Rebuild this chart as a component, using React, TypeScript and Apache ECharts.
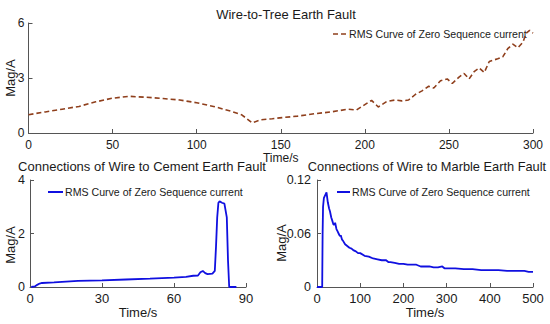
import React, { useEffect, useRef } from "react";
import * as echarts from "echarts";

const legendName = "RMS Curve of Zero Sequence current";

const treeTime = [0, 10, 20, 30, 40, 50, 60, 70, 80, 90, 100, 110, 120, 127, 133, 138, 145, 152, 160, 170, 180, 190, 195, 200, 204, 208, 213, 218, 222, 226, 230, 234, 238, 241, 245, 249, 252, 256, 259, 262, 265, 268, 271, 274, 279, 282, 285, 288, 291, 294, 296, 298, 300];
const treeMag = [1.0, 1.15, 1.3, 1.45, 1.7, 1.9, 2.0, 1.95, 1.88, 1.8, 1.65, 1.45, 1.2, 0.98, 0.55, 0.72, 0.78, 0.85, 0.92, 1.05, 1.15, 1.3, 1.25, 1.55, 1.78, 1.42, 1.72, 1.8, 1.75, 1.8, 2.1, 2.3, 2.55, 2.45, 2.85, 2.95, 2.7, 3.05, 3.25, 2.95, 3.35, 3.55, 3.3, 3.9, 4.05, 4.15, 4.6, 4.85, 4.65, 4.95, 5.45, 5.6, 5.45];

const cementTime = [0.5, 2, 3, 4, 5, 10, 15, 20, 30, 40, 50, 55, 60, 65, 68, 70, 71, 72, 73, 74, 76, 77, 77.5, 78, 78.5, 79, 80, 81, 82, 82.5, 83, 86];
const cementMag = [0, 0.02, 0.08, 0.13, 0.15, 0.17, 0.2, 0.23, 0.25, 0.28, 0.31, 0.33, 0.35, 0.38, 0.42, 0.43, 0.55, 0.6, 0.52, 0.48, 0.5, 0.6, 1.5, 2.6, 3.15, 3.2, 3.15, 3.12, 2.6, 1.0, 0, 0];

const marbleTime = [0, 5, 10, 12, 13, 14, 16, 19, 22, 25, 28, 30, 33, 35, 38, 40, 42, 45, 48, 50, 53, 55, 58, 60, 65, 70, 75, 80, 85, 90, 95, 100, 110, 120, 130, 140, 150, 160, 165, 170, 180, 190, 200, 210, 220, 230, 240, 250, 260, 270, 280, 290, 295, 300, 320, 340, 360, 380, 400, 420, 440, 460, 480, 490, 500];
const marbleMag = [0, 0, 0, 0, 0.06, 0.09, 0.1, 0.103, 0.106, 0.095, 0.088, 0.085, 0.078, 0.075, 0.07, 0.07, 0.072, 0.065, 0.062, 0.06, 0.057, 0.058, 0.053, 0.052, 0.048, 0.046, 0.044, 0.043, 0.041, 0.04, 0.038, 0.038, 0.035, 0.034, 0.032, 0.031, 0.03, 0.03, 0.028, 0.028, 0.027, 0.026, 0.026, 0.025, 0.025, 0.025, 0.023, 0.023, 0.023, 0.022, 0.022, 0.023, 0.021, 0.021, 0.021, 0.02, 0.02, 0.019, 0.019, 0.019, 0.018, 0.018, 0.018, 0.017, 0.017];

const pair = (xs: number[], ys: number[]) => xs.map((x, i) => [x, ys[i]]);

const FONT = "Liberation Sans";
const axisColor = "#555";
const textColor = "#1a1a1a";
const brown = "#8f3f1c";
const blue = "#1010e0";

function xAxis(gridIndex: number, max: number, interval: number, nameGap: number, fs: number, margin: number) {
  return {
    type: "value",
    gridIndex,
    min: 0,
    max,
    interval,
    name: "Time/s",
    nameLocation: "middle",
    nameGap,
    nameTextStyle: { fontFamily: FONT, fontSize: fs, color: textColor },
    axisLine: { show: true, lineStyle: { color: axisColor, width: 1 } },
    axisTick: { show: true, inside: true, length: 4, lineStyle: { color: axisColor } },
    axisLabel: { fontFamily: FONT, fontSize: fs, color: textColor, margin },
    splitLine: { show: false },
  };
}

function yAxis(gridIndex: number, max: number, interval: number, fs: number, margin: number) {
  return {
    type: "value",
    gridIndex,
    min: 0,
    max,
    interval,
    axisLine: { show: true, lineStyle: { color: axisColor, width: 1 } },
    axisTick: { show: true, inside: true, length: 4, lineStyle: { color: axisColor } },
    axisLabel: {
      fontFamily: FONT,
      fontSize: fs,
      color: textColor,
      margin,
      formatter: (v: number) => String(+v.toFixed(2)),
    },
    splitLine: { show: false },
  };
}

function yName(x: number, y: number, fs: number) {
  return {
    type: "text",
    x,
    y,
    rotation: Math.PI / 2,
    style: { text: "Mag/A", font: `${fs}px "${FONT}"`, fill: textColor, align: "center", verticalAlign: "middle" },
  };
}

function legend(x0: number, y: number, dashed: boolean, color: string, lineLen: number) {
  return [
    {
      type: "line",
      shape: { x1: x0, y1: y, x2: x0 + lineLen, y2: y },
      style: { stroke: color, lineWidth: dashed ? 1.6 : 2, lineDash: dashed ? [5, 3] : null },
    },
    {
      type: "text",
      x: x0 + lineLen + 2,
      y,
      style: { text: legendName, font: `10.6px "${FONT}"`, fill: textColor, align: "left", verticalAlign: "middle" },
    },
  ];
}

export default function App() {
  const ref = useRef<HTMLDivElement>(null);
  useEffect(() => {
    if (!ref.current) return;
    const chart = echarts.init(ref.current, undefined, { renderer: "svg" });
    chart.setOption({
      animation: false,
      backgroundColor: "#fff",
      title: [
        { text: "Wire-to-Tree Earth Fault", left: 281, top: 3, textAlign: "center", textStyle: { fontFamily: FONT, fontSize: 13, fontWeight: "normal", color: textColor } },
        { text: "Connections of Wire to Cement Earth Fault", left: 137, top: 155, textAlign: "center", textStyle: { fontFamily: FONT, fontSize: 13, fontWeight: "normal", color: textColor } },
        { text: "Connections of Wire to Marble Earth Fault", left: 422, top: 155, textAlign: "center", textStyle: { fontFamily: FONT, fontSize: 12.8, fontWeight: "normal", color: textColor } },
      ],
      grid: [
        { left: 28.5, top: 23, width: 504.5, height: 110 },
        { left: 30, top: 180, width: 216, height: 107 },
        { left: 317, top: 180, width: 216, height: 107 },
      ],
      xAxis: [xAxis(0, 300, 50, 17, 12, 6), xAxis(1, 90, 30, 19, 13, 5), xAxis(2, 500, 100, 19, 13, 5)],
      yAxis: [yAxis(0, 6, 3, 12, 4), yAxis(1, 4, 2, 12.5, 5), yAxis(2, 0.12, 0.06, 12.5, 6)],
      graphic: [
        yName(10, 78, 13),
        yName(10, 245, 13),
        yName(281, 243, 13),
        ...legend(333, 34, true, brown, 14),
        ...legend(48, 192, false, blue, 15),
        ...legend(337, 192, false, blue, 13),
      ],
      series: [
        {
          type: "line",
          name: "tree",
          xAxisIndex: 0,
          yAxisIndex: 0,
          data: pair(treeTime, treeMag),
          symbol: "none",
          lineStyle: { color: brown, width: 1.6, type: [5, 3] },
        },
        {
          type: "line",
          name: "cement",
          xAxisIndex: 1,
          yAxisIndex: 1,
          data: pair(cementTime, cementMag),
          symbol: "none",
          lineStyle: { color: blue, width: 1.8 },
        },
        {
          type: "line",
          name: "marble",
          xAxisIndex: 2,
          yAxisIndex: 2,
          data: pair(marbleTime, marbleMag),
          symbol: "none",
          lineStyle: { color: blue, width: 1.8 },
        },
      ],
    });
    return () => chart.dispose();
  }, []);
  return <div ref={ref} style={{ position: "fixed", left: 0, top: 0, width: 550, height: 324 }} />;
}
